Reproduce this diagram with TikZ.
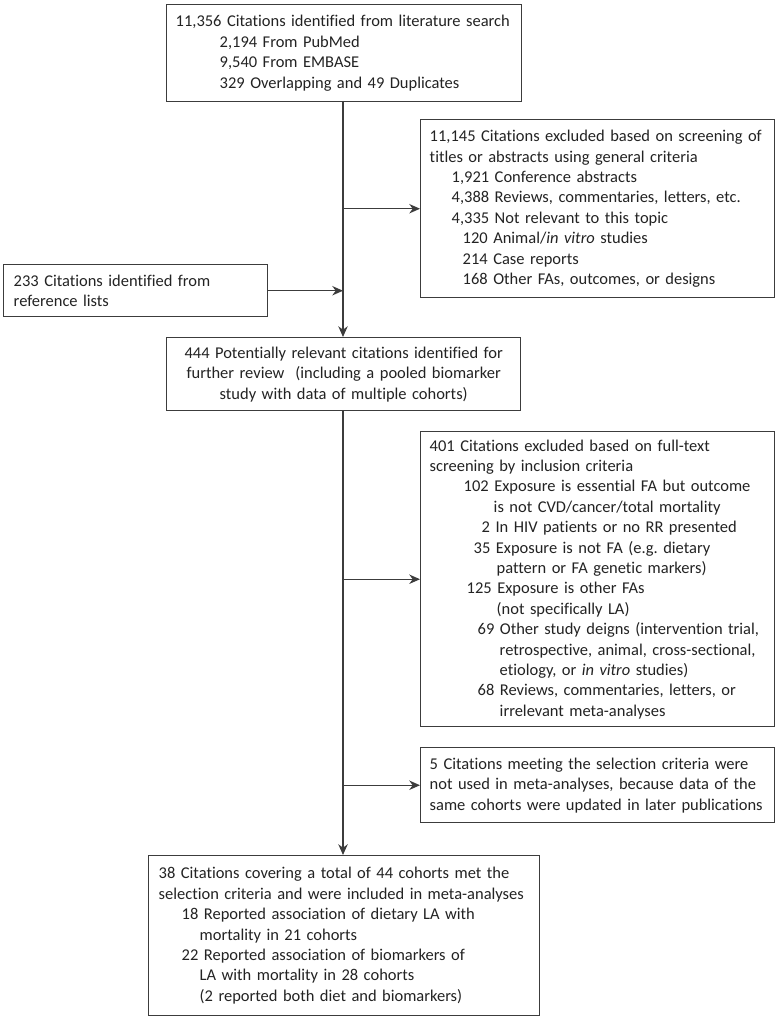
\documentclass[tikz,border=0pt]{standalone}
\usepackage{fontspec}
\setmainfont[Ligatures={NoCommon}]{Carlito}
\usetikzlibrary{arrows.meta}
\definecolor{ink}{RGB}{35,35,35}
\definecolor{edge}{RGB}{60,60,60}
\frenchspacing
\begin{document}
\begin{tikzpicture}[x=0.75pt,y=-0.75pt,
  box/.style={draw=edge, line width=1.1pt, rectangle, anchor=north west,
    inner ysep=0pt, inner xsep=6.75pt, align=left, text=ink,
    font=\fontsize{12.35pt}{15.3pt}\selectfont},
  conn/.style={draw=edge, line width=1.1pt,
    -{Stealth[length=8pt,width=7pt,inset=2.5pt]}}]
\useasboundingbox (0,0) rectangle (780,1020);
\fill[white] (0,0) rectangle (780,1020);

\node[box, minimum width=266.25pt, minimum height=72.75pt, text width=252.75pt] (A) at (166,4)
 {\mbox{11,356 Citations identified from literature search}\\
  \hspace*{33pt}\mbox{2,194 From PubMed}\\
  \hspace*{33pt}\mbox{9,540 From EMBASE}\\
  \hspace*{33pt}\mbox{329 Overlapping and 49 Duplicates}};

\node[box, minimum width=265.5pt, minimum height=133.5pt, text width=252pt] (B) at (420,119)
 {\mbox{11,145 Citations excluded based on screening of}\\
  \mbox{titles or abstracts using general criteria}\\
  \hspace*{16.5pt}\mbox{1,921 Conference abstracts}\\
  \hspace*{16.5pt}\mbox{4,388 Reviews, commentaries, letters, etc.}\\
  \hspace*{16.5pt}\mbox{4,335 Not relevant to this topic}\\
  \hspace*{24.75pt}\mbox{120 Animal/\textit{in vitro} studies}\\
  \hspace*{24.75pt}\mbox{214 Case reports}\\
  \hspace*{24.75pt}\mbox{168 Other FAs, outcomes, or designs}};

\node[box, minimum width=198pt, minimum height=39pt, text width=183pt, inner xsep=7.5pt] (D) at (3,264)
 {\mbox{233 Citations identified from}\\
  \mbox{reference lists}};

\node[box, align=center, minimum width=265.5pt, minimum height=54.75pt, text width=252pt] (C) at (166,337)
 {444 Potentially relevant citations identified for\\
  further review\ \ (including a pooled biomarker\\
  study with data of multiple cohorts)};

\node[box, minimum width=265.5pt, minimum height=221.25pt, text width=252pt] (E) at (420,431)
 {\mbox{401 Citations excluded based on full-text}\\
  \mbox{screening by inclusion criteria}\\
  \hspace*{25.5pt}\mbox{102 Exposure is essential FA but outcome}\\
  \hspace*{48pt}\mbox{is not CVD/cancer/total mortality}\\
  \hspace*{39pt}\mbox{2 In HIV patients or no RR presented}\\
  \hspace*{33pt}\mbox{35 Exposure is not FA (e.g. dietary}\\
  \hspace*{50.25pt}\mbox{pattern or FA genetic markers)}\\
  \hspace*{27.75pt}\mbox{125 Exposure is other FAs}\\
  \hspace*{50.25pt}\mbox{(not specifically LA)}\\
  \hspace*{36pt}\mbox{69 Other study deigns (intervention trial,}\\
  \hspace*{52.5pt}\mbox{retrospective, animal, cross-sectional,}\\
  \hspace*{52.5pt}\mbox{etiology, or \textit{in vitro} studies)}\\
  \hspace*{36pt}\mbox{68 Reviews, commentaries, letters, or}\\
  \hspace*{52.5pt}\mbox{irrelevant meta-analyses}};

\node[box, minimum width=265.5pt, minimum height=56.25pt, text width=252pt] (G) at (420,747)
 {\mbox{5 Citations meeting the selection criteria were}\\
  \mbox{not used in meta-analyses, because data of the}\\
  \mbox{same cohorts were updated in later publications}};

\node[box, minimum width=293.25pt, minimum height=120pt, text width=278.25pt, inner xsep=7.5pt] (F) at (148,855)
 {\mbox{38 Citations covering a total of 44 cohorts met the}\\
  \mbox{selection criteria and were included in meta-analyses}\\
  \hspace*{17.25pt}\mbox{18 Reported association of dietary LA with}\\
  \hspace*{30.75pt}\mbox{mortality in 21 cohorts}\\
  \hspace*{17.25pt}\mbox{22 Reported association of biomarkers of}\\
  \hspace*{30.75pt}\mbox{LA with mortality in 28 cohorts}\\
  \hspace*{30.75pt}\mbox{(2 reported both diet and biomarkers)}};

\coordinate (top) at (343,101);
\coordinate (mid) at (343,410);
\draw[conn] (top) -- (top |- C.north);
\draw[conn] (top |- B.west) -- (B.west);
\draw[conn] (D.east) -- (D.east -| top);
\draw[conn] (mid) -- (mid |- F.north);
\draw[conn] (mid |- E.west) -- (E.west);
\draw[conn] (mid |- G.west) -- (G.west);
\end{tikzpicture}
\end{document}
